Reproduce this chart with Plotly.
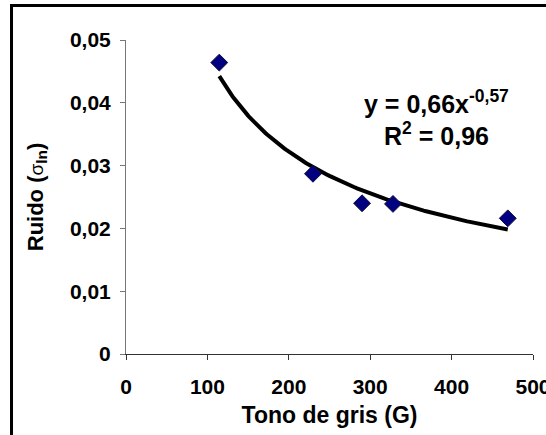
import numpy as np
import plotly.graph_objects as go

# Measured noise versus grey tone
tono = [114.6, 229.7, 290.0, 328.0, 469.0]
ruido = [0.0464, 0.0287, 0.0240, 0.0239, 0.0216]

# Power-law fit y = a * x^b reported on the chart
coef_a = 0.66
coef_b = -0.57
r2 = 0.96

x_ticks = [0, 100, 200, 300, 400, 500]
y_ticks = [0, 0.01, 0.02, 0.03, 0.04, 0.05]
y_tick_text = ["0", "0,01", "0,02", "0,03", "0,04", "0,05"]

FONT = "Liberation Sans, Arial, sans-serif"


def comma(v):
    return str(v).replace(".", ",")


x_fit = np.linspace(min(tono), max(tono), 200)
y_fit = coef_a * x_fit ** coef_b

fig = go.Figure()
fig.add_trace(go.Scatter(
    x=x_fit, y=y_fit, mode="lines",
    line=dict(color="black", width=4),
    hoverinfo="skip", showlegend=False,
))
fig.add_trace(go.Scatter(
    x=tono, y=ruido, mode="markers",
    marker=dict(symbol="diamond", size=13, color="#000080",
                line=dict(color="#10103a", width=1)),
    showlegend=False,
))

fig.update_layout(
    width=546, height=435,
    margin=dict(l=126, r=13, t=40, b=81),
    paper_bgcolor="white", plot_bgcolor="white",
    font=dict(family=FONT, color="black"),
    xaxis=dict(
        range=[0, 500.001], tickvals=x_ticks,
        ticktext=[f"<b>{v}</b>" for v in x_ticks],
        ticklabeloverflow="allow", automargin=False,
        showgrid=False, zeroline=False, showline=True, linecolor="#333333",
        linewidth=1, ticks="outside", ticklen=5, tickcolor="#333333",
        ticklabelstandoff=9,
        tickfont=dict(family=FONT, size=21, color="black"),
        title=dict(text="<b>Tono de gris (G)</b>", font=dict(family=FONT, size=23),
                   standoff=9),
    ),
    yaxis=dict(
        range=[0, 0.05], tickvals=y_ticks,
        ticktext=[f"<b>{t}</b>" for t in y_tick_text],
        automargin=False,
        showgrid=False, zeroline=False, showline=True, linecolor="#777777",
        linewidth=1, ticks="outside", ticklen=5, tickcolor="#777777",
        ticklabelstandoff=5,
        tickfont=dict(family=FONT, size=21, color="black"),
        title=dict(text="<b>Ruido (</b><span style='font-size:19px'>σ</span>"
                        "<sub><b>ln</b></sub><b>)</b>",
                   font=dict(family=FONT, size=22), standoff=20),
    ),
    annotations=[
        dict(xref="paper", yref="paper", x=0.764, y=0.8025,
             text=f"<b>y = {comma(coef_a)}x<sup>{comma(coef_b)}</sup></b>",
             showarrow=False, font=dict(family=FONT, size=25, color="black"),
             xanchor="center", yanchor="middle"),
        dict(xref="paper", yref="paper", x=0.764, y=0.70,
             text=f"<b>R<sup>2</sup> = {comma(r2)}</b>",
             showarrow=False, font=dict(family=FONT, size=25, color="black"),
             xanchor="center", yanchor="middle"),
    ],
    shapes=[
        dict(type="rect", xref="paper", yref="paper",
             x0=-0.2813, x1=1.07, y0=-0.32, y1=1.1099,
             line=dict(color="black", width=3), fillcolor="rgba(0,0,0,0)",
             layer="above"),
    ],
)

fig.write_html("out.html")
